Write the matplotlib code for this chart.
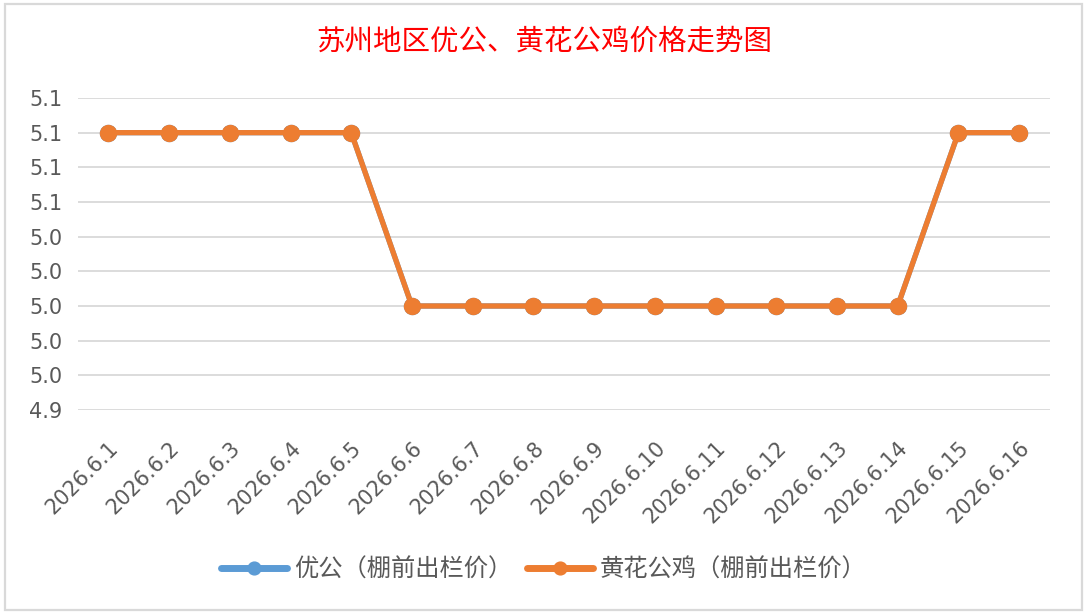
import matplotlib.pyplot as plt
from matplotlib.patches import Rectangle
from matplotlib.ticker import FuncFormatter
import numpy as np

plt.rcParams['font.family'] = ['DejaVu Sans', 'Noto Sans CJK SC']

dates = ['2026.6.%d' % d for d in range(1, 17)]
yougong = [5.10, 5.10, 5.10, 5.10, 5.10, 5.00, 5.00, 5.00, 5.00, 5.00,
           5.00, 5.00, 5.00, 5.00, 5.10, 5.10]
huanghua = [5.10, 5.10, 5.10, 5.10, 5.10, 5.00, 5.00, 5.00, 5.00, 5.00,
            5.00, 5.00, 5.00, 5.00, 5.10, 5.10]
yticks = [4.94, 4.96, 4.98, 5.00, 5.02, 5.04, 5.06, 5.08, 5.10, 5.12]

blue = '#5B9BD5'
orange = '#ED7D31'
grey_txt = '#595959'

fig = plt.figure(figsize=(10.88, 6.16), dpi=100)
ax = fig.add_axes([78/1088, 1 - 410/616, (1049.5 - 78)/1088, (410 - 98)/616])

x = np.arange(len(dates))
ax.plot(x, yougong, color=blue, lw=3.8, marker='o', ms=11.5,
        solid_capstyle='round', label='优公（棚前出栏价）', zorder=3)
ax.plot(x, huanghua, color=orange, lw=3.8, marker='o', ms=11.5,
        solid_capstyle='round', label='黄花公鸡（棚前出栏价）', zorder=4)

ax.set_xlim(-0.5, len(dates) - 0.5)
ax.set_ylim(yticks[0], yticks[-1])
ax.set_yticks(yticks)
ax.yaxis.set_major_formatter(FuncFormatter(lambda v, p: '%.1f' % v))
ax.set_xticks(x)
ax.set_xticklabels(dates, rotation=45, ha='right', va='top',
                   rotation_mode='anchor')
ax.tick_params(axis='both', length=0, labelsize=15, colors=grey_txt)
ax.tick_params(axis='y', pad=11)
ax.tick_params(axis='x', pad=20)
ax.grid(axis='y', color='#D9D9D9', lw=1.3, zorder=0)
for s in ax.spines.values():
    s.set_visible(False)

fig.text(0.5, 1 - 42/616, '苏州地区优公、黄花公鸡价格走势图', color='red',
         fontsize=20.5, ha='center', va='center', family=['Noto Sans CJK SC'])

leg = fig.legend(loc='center', bbox_to_anchor=(0.5, 1 - 570/616), ncol=2,
                 frameon=False, markerscale=0.8, handlelength=2.7,
                 handletextpad=0.3, columnspacing=0.6,
                 prop={'family': ['Noto Sans CJK SC'], 'size': 17.5})
for t in leg.get_texts():
    t.set_color(grey_txt)
for h in leg.legend_handles:
    h.set_linewidth(5)

fig.patches.append(Rectangle((5/1088, 1 - 610/616), (1082 - 5)/1088, (610 - 4)/616,
                             transform=fig.transFigure, fill=False,
                             edgecolor='#D9D9D9', lw=1.6))

fig.savefig('out.png', dpi=100)
